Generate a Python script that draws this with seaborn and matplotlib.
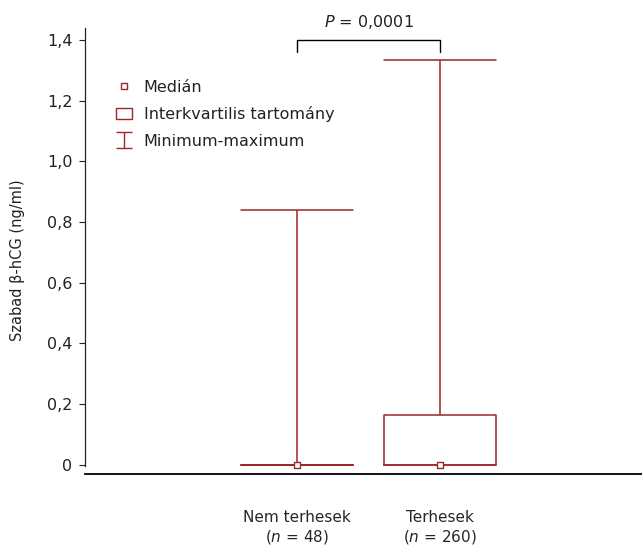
import numpy as np
import pandas as pd
import matplotlib
matplotlib.use("Agg")
import matplotlib.pyplot as plt
import seaborn as sns
from matplotlib.lines import Line2D
from matplotlib.patches import Patch
from matplotlib.path import Path

# ---- data (summary values) ----
groups = ["Nem terhesek", "Terhesek"]
group_n = [48, 260]
minimum = [0.0, 0.0]
q1 = [0.0, 0.0]
median = [0.0, 0.0]
q3 = [0.0, 0.165]
maximum = [0.84, 1.335]
yticks = [0, 0.2, 0.4, 0.6, 0.8, 1.0, 1.2, 1.4]
ytick_labels = ["0", "0,2", "0,4", "0,6", "0,8", "1,0", "1,2", "1,4"]
p_text = "$\\it{P}$ = 0,0001"
legend_labels = ["Medián", "Interkvartilis tartomány", "Minimum-maximum"]

RED = "#9E2528"
TXT = "#222222"

sns.set_theme(style="white")
plt.rcParams["font.family"] = ["DejaVu Sans"]
plt.rcParams["mathtext.fontset"] = "dejavusans"

# five-number values per group -> long table
rows = []
for g, mn, a, m, b, mx in zip(groups, minimum, q1, median, q3, maximum):
    for v in (mn, a, m, b, mx):
        rows.append({"group": g, "value": v})
df = pd.DataFrame(rows)
med_df = pd.DataFrame({"group": groups, "value": median})

fig = plt.figure(figsize=(6.42, 5.45), dpi=100)
ax = fig.add_axes([85 / 642, (545 - 466) / 545, 557 / 642, (466 - 28) / 545])

sns.boxplot(data=df, x="group", y="value", order=groups, whis=(0, 100),
            width=0.79, fill=False, color=RED, linewidth=1.1,
            medianprops=dict(linewidth=0), capwidths=0.79, ax=ax)
sns.stripplot(data=med_df, x="group", y="value", order=groups, jitter=False,
              marker="s", size=5, color="white", edgecolor=RED, linewidth=1.0,
              zorder=6, clip_on=False, ax=ax)

ax.set_xlim(-1.4825, 2.4126)
ax.set_ylim(-0.004, 1.44)
ax.set_yticks(yticks)
ax.set_yticklabels(ytick_labels, fontsize=11.5, color=TXT)
ax.set_xticks(range(len(groups)))
ax.set_xticklabels([f"{g}\n($\\it{{n}}$ = {n})" for g, n in zip(groups, group_n)],
                   fontsize=10.8, color=TXT, linespacing=1.15)
ax.tick_params(axis="y", left=True, length=4, width=0.8, color=TXT, pad=5)
ax.tick_params(axis="x", bottom=False, length=0, pad=26)
ax.set_xlabel("")
ax.set_ylabel("Szabad β-hCG (ng/ml)", fontsize=10.5, color=TXT)
ax.yaxis.set_label_coords(-0.108, 0.47)

for s in ("top", "right"):
    ax.spines[s].set_visible(False)
ax.spines["left"].set_color(TXT)
ax.spines["left"].set_linewidth(0.9)
ax.spines["bottom"].set_color("black")
ax.spines["bottom"].set_linewidth(1.3)
ax.spines["bottom"].set_position(("outward", 6))

# significance bracket
ax.plot([0, 0, 1, 1], [1.36, 1.40, 1.40, 1.36], color="black", lw=1.0, clip_on=False)
ax.text(0.5, 1.444, p_text, ha="center", va="baseline", fontsize=11.5, color=TXT)

# legend
ibeam = Path([(-1, 1), (1, 1), (0, 1), (0, -1), (-1, -1), (1, -1)],
             [Path.MOVETO, Path.LINETO, Path.MOVETO, Path.LINETO, Path.MOVETO, Path.LINETO])
handles = [
    Line2D([], [], ls="none", marker="s", ms=4, mfc="white", mec=RED, mew=1.0),
    Patch(facecolor="white", edgecolor=RED, linewidth=1.0),
    Line2D([], [], ls="none", marker=ibeam, ms=11, mfc="none", mec=RED, mew=1.0),
]
ax.legend(handles, legend_labels, loc="upper left", bbox_to_anchor=(0.045, 0.897),
          frameon=False, fontsize=11.5, handlelength=0.95, handleheight=0.75,
          handletextpad=0.75, labelspacing=0.72, borderaxespad=0,
          labelcolor=TXT)

fig.savefig("out.png", dpi=100)
